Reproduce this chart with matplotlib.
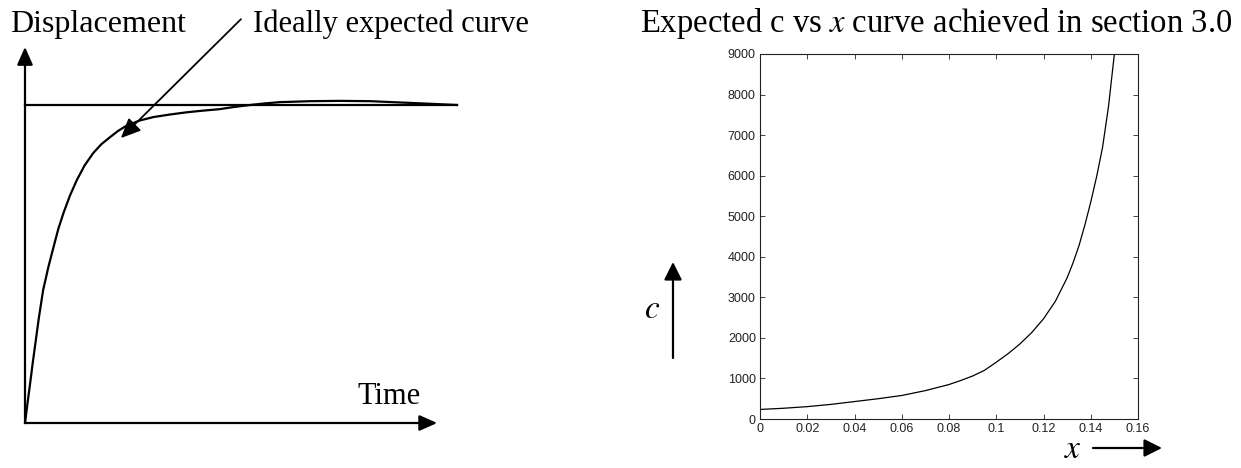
import numpy as np
import matplotlib
matplotlib.use('Agg')
import matplotlib.pyplot as plt

plt.rcParams['font.family'] = ['Liberation Serif', 'DejaVu Serif']
plt.rcParams['mathtext.fontset'] = 'stix'

# 左图: 理想位移-时间曲线 (示意, 单位任意)
time_vals = [0, 0.06, 0.12, 0.18, 0.23, 0.32, 0.42, 0.54, 0.66, 0.77, 0.89,
             1.04, 1.2, 1.38, 1.58, 1.77, 1.97, 2.15, 2.35, 2.65, 2.97, 3.35,
             3.74, 4.1, 4.51, 4.85, 5.21, 5.55, 5.9, 6.6, 7.29, 8.0, 8.68,
             9.35, 10.0]
disp_vals = [0, 0.064, 0.126, 0.19, 0.24, 0.33, 0.418, 0.49, 0.553, 0.61, 0.66,
             0.715, 0.764, 0.81, 0.849, 0.877, 0.899, 0.918, 0.935, 0.951, 0.962,
             0.97, 0.977, 0.982, 0.987, 0.994, 1.0, 1.005, 1.009, 1.012, 1.013,
             1.012, 1.008, 1.004, 1.0]
steady_level = 1.0

# 右图: c vs x
x_vals = [0, 0.01, 0.02, 0.03, 0.04, 0.05, 0.06, 0.07, 0.08, 0.085, 0.09, 0.095,
          0.1, 0.105, 0.11, 0.115, 0.12, 0.125, 0.13, 0.1325, 0.135, 0.1375,
          0.14, 0.1425, 0.145, 0.1475, 0.15]
c_vals = [235, 265, 305, 360, 430, 500, 580, 700, 850, 950, 1060, 1200,
          1400, 1610, 1850, 2130, 2470, 2900, 3480, 3850, 4270, 4780,
          5350, 5980, 6700, 7700, 9000]
x_ticks = [0, 0.02, 0.04, 0.06, 0.08, 0.1, 0.12, 0.14, 0.16]
x_tick_labels = ['0', '0.02', '0.04', '0.06', '0.08', '0.1', '0.12', '0.14', '0.16']
c_ticks = list(range(0, 9001, 1000))

W, H = 1241, 468
fig = plt.figure(figsize=(W / 100, H / 100), dpi=100)


def fx(px):
    return px / W


def fy(py):
    return 1 - py / H


# ---- 左图 ----
ax1 = fig.add_axes([fx(25), fy(423), 432 / W, 376 / H])
ax1.set_xlim(0, 10)
ax1.set_ylim(0, 376 / 318)
ax1.axis('off')
ax1.plot(time_vals, disp_vals, color='black', lw=1.6, clip_on=False,
         solid_joinstyle='round')
ax1.plot([0, 10], [steady_level, steady_level], color='black', lw=1.6, clip_on=False)

axis_arrow = dict(arrowstyle='-|>,head_length=0.9,head_width=0.4', color='black',
                  lw=1.6, shrinkA=0, shrinkB=0, mutation_scale=12)
ax1.annotate('', xy=(0, 376 / 318), xytext=(0, 0), arrowprops=axis_arrow,
             annotation_clip=False)
ax1.annotate('', xy=(9.54, 0), xytext=(0, 0), arrowprops=axis_arrow,
             annotation_clip=False)
ax1.annotate('', xy=(2.22, 0.896), xytext=(5.0, 1.27),
             arrowprops=dict(arrowstyle='-|>,head_length=1.0,head_width=0.45',
                             color='black', lw=1.3, shrinkA=0, shrinkB=0,
                             mutation_scale=12),
             annotation_clip=False)

fig.text(fx(10), fy(32), 'Displacement', fontsize=23, va='baseline')
fig.text(fx(253), fy(32), 'Ideally expected curve', fontsize=22, va='baseline')
fig.text(fx(358), fy(404), 'Time', fontsize=22, va='baseline')

# ---- 右图 ----
ax2 = fig.add_axes([fx(760), fy(419), 378 / W, 365 / H])
ax2.plot(x_vals, c_vals, color='black', lw=0.9)
ax2.set_xlim(0, 0.16)
ax2.set_ylim(0, 9000)
ax2.set_xticks(x_ticks)
ax2.set_xticklabels(x_tick_labels)
ax2.set_yticks(c_ticks)
ax2.set_yticklabels([str(v) for v in c_ticks])
ax2.tick_params(direction='in', top=True, right=True, length=3.5, width=0.6,
                labelsize=9, pad=3, colors='#222222')
for lab in ax2.get_xticklabels() + ax2.get_yticklabels():
    lab.set_family(['Liberation Sans Narrow', 'Liberation Sans'])
for sp in ax2.spines.values():
    sp.set_linewidth(0.8)
    sp.set_color('#222222')

fig.text(fx(640), fy(32), r'Expected c vs $x$ curve achieved in section 3.0',
         fontsize=23.5, va='baseline')

fig.text(fx(652), fy(310), r'$c$', fontsize=24, ha='center', va='center')
fig.add_artist(matplotlib.patches.FancyArrowPatch(
    (fx(673), fy(358)), (fx(673), fy(262)), transform=fig.transFigure,
    arrowstyle='-|>,head_length=0.9,head_width=0.45', color='black', lw=1.6,
    mutation_scale=12, shrinkA=0, shrinkB=0))

fig.text(fx(1073), fy(450), r'$x$', fontsize=24, ha='center', va='center')
fig.add_artist(matplotlib.patches.FancyArrowPatch(
    (fx(1093), fy(448)), (fx(1162), fy(448)), transform=fig.transFigure,
    arrowstyle='-|>,head_length=0.9,head_width=0.45', color='black', lw=1.6,
    mutation_scale=12, shrinkA=0, shrinkB=0))

fig.savefig('out.png', dpi=100, facecolor='white')
